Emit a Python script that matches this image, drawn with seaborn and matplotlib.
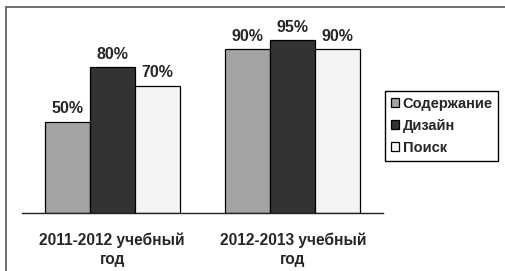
import seaborn as sns
import matplotlib.pyplot as plt
import pandas as pd
from matplotlib.lines import Line2D

# данные с диаграммы
years = ['2011-2012 учебный\nгод', '2012-2013 учебный\nгод']
series = ['Содержание', 'Дизайн', 'Поиск']
soderzhanie = [50, 90]
dizain = [80, 95]
poisk = [70, 90]
colors = ['#a3a3a3', '#333333', '#f4f4f4']

rows = []
for name, vals in zip(series, [soderzhanie, dizain, poisk]):
    for y, v in zip(years, vals):
        rows.append({'year': y, 'series': name, 'value': v})
df = pd.DataFrame(rows)

sns.set_style('white')
plt.rcParams['font.family'] = ['Liberation Sans', 'DejaVu Sans']

fig = plt.figure(figsize=(5.05, 2.71), dpi=100)
ax = fig.add_axes([22 / 505, 1 - 213 / 271, 361 / 505, 182 / 271])

sns.barplot(data=df, x='year', y='value', hue='series', palette=colors,
            edgecolor='black', linewidth=0.9, width=0.75, ax=ax, legend=True)

for cont, vals in zip(ax.containers, [soderzhanie, dizain, poisk]):
    ax.bar_label(cont, labels=[f'{v}%' for v in vals], padding=4,
                 fontsize=11.5, fontweight='bold')

ax.set_ylim(0, 100)
ax.set_xlim(-0.5, 1.5)
ax.set_xlabel('')
ax.set_ylabel('')
ax.set_yticks([])
for s in ['top', 'right', 'left']:
    ax.spines[s].set_visible(False)
ax.spines['bottom'].set_color('#222222')
ax.spines['bottom'].set_linewidth(1)

ax.tick_params(axis='x', which='major', length=0, pad=14, labelsize=11.2)
for t in ax.get_xticklabels():
    t.set_fontweight('bold')
    t.set_linespacing(1.3)
ax.set_xticks([-0.5, 0.5, 1.5], minor=True)
ax.tick_params(axis='x', which='minor', length=5, width=1, direction='out', color='#222222')

handles, labels = ax.get_legend_handles_labels()
ax.legend(handles, labels, loc='upper left',
          bbox_to_anchor=(385 / 505, 1 - 91 / 271), bbox_transform=fig.transFigure,
          frameon=True, fancybox=False, edgecolor='black', framealpha=1,
          prop={'weight': 'bold', 'size': 10.5}, handlelength=0.55, handleheight=0.55,
          handletextpad=0.25, labelspacing=0.55, borderpad=0.4, borderaxespad=0)
ax.get_legend().get_frame().set_linewidth(1)

# рамка рисунка (верх и лево)
fig.add_artist(Line2D([6 / 505, 6 / 505], [0, 1 - 7 / 271], color='#555555', lw=1.2))
fig.add_artist(Line2D([6 / 505, 1], [1 - 7 / 271, 1 - 7 / 271], color='#555555', lw=1.2))

fig.savefig('out.png', dpi=100)
